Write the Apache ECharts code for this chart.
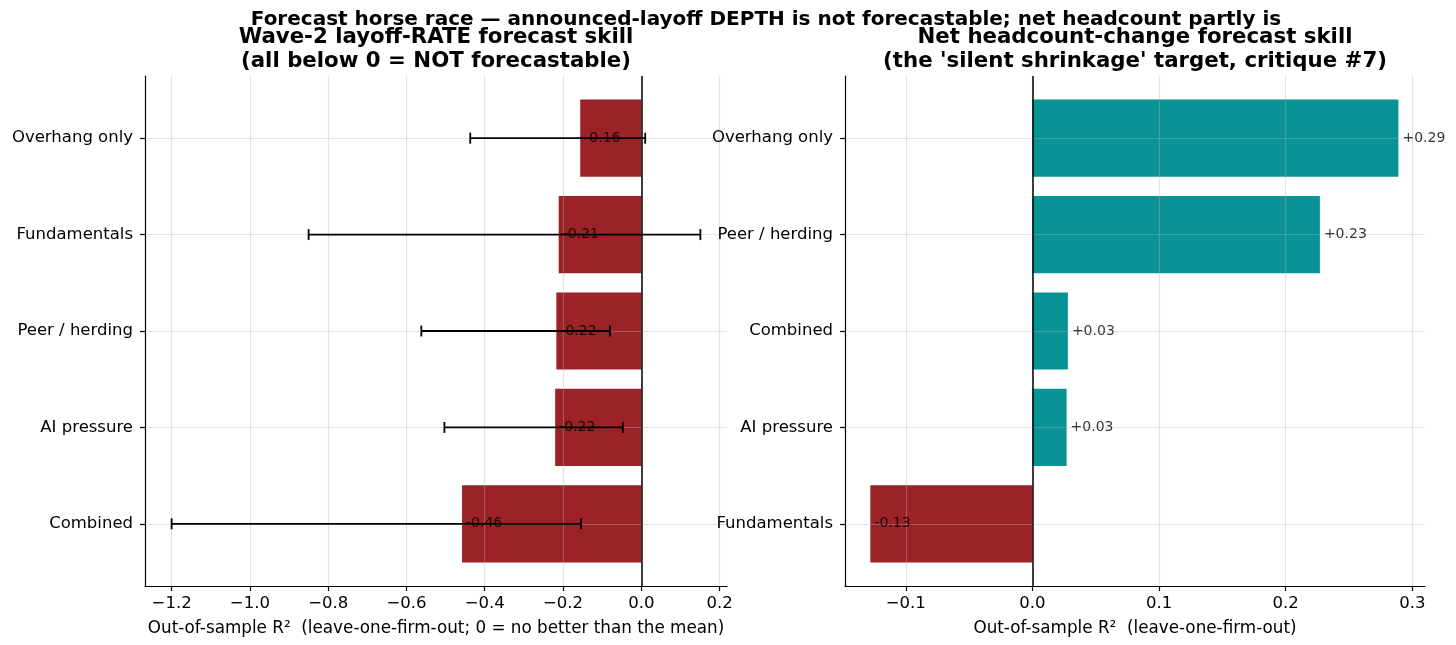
<!DOCTYPE html>
<html>
<head>
<meta charset="utf-8">
<script src="https://cdn.jsdelivr.net/npm/echarts@6/dist/echarts.min.js"></script>
<style>
  html, body { margin: 0; padding: 0; background: #fff; }
  #chart { width: 1456px; height: 645px; }
</style>
</head>
<body>
<div id="chart"></div>
<script>
// left panel: wave-2 layoff-rate skill (out-of-sample R2 + interval)
const leftCats = ['Overhang only', 'Fundamentals', 'Peer / herding', 'AI pressure', 'Combined'];
const leftR2 = [-0.156, -0.211, -0.217, -0.220, -0.458];
const leftLow = [-0.437, -0.850, -0.562, -0.503, -1.200];
const leftHigh = [0.010, 0.151, -0.080, -0.047, -0.154];
const leftTicks = [-1.2, -1.0, -0.8, -0.6, -0.4, -0.2, 0.0, 0.2];

// right panel: net headcount-change skill
const rightCats = ['Overhang only', 'Peer / herding', 'Combined', 'AI pressure', 'Fundamentals'];
const rightR2 = [0.289, 0.227, 0.028, 0.027, -0.128];
const rightTicks = [-0.1, 0.0, 0.1, 0.2, 0.3];

const RED = '#9b2226'
const TEAL = '#0a9396'
const GRID_COLOR = 'rgba(176,176,176,0.35)'
const FONT = 'DejaVu Sans'
const catIdx = [0, 1, 2, 3, 4]

const chart = echarts.init(document.getElementById('chart'))

function tickFmt(v) {
    const s = Math.abs(v).toFixed(1)
    return (v < -1e-9 ? '\u2212' : '') + s
}

function xAxisFor(gridIndex, min, max, ticks, name) {
    return {
        gridIndex: gridIndex,
        type: 'value',
        min: min,
        max: max,
        z: 3,
        name: name,
        nameLocation: 'middle',
        nameGap: 34,
        nameTextStyle: { fontFamily: FONT, fontSize: 16.8, color: '#000' },
        axisLine: { show: true, onZero: false, lineStyle: { color: '#000', width: 1.2 } },
        axisTick: { show: true, length: 5, customValues: ticks, lineStyle: { color: '#000', width: 1.2 } },
        axisLabel: {
            customValues: ticks, margin: 9, fontFamily: FONT, fontSize: 16.5, color: '#000',
            formatter: tickFmt
        },
        splitLine: { show: true, lineStyle: { color: GRID_COLOR, width: 1.2 } }
    }
}

function yAxisFor(gridIndex, cats) {
    return {
        gridIndex: gridIndex,
        type: 'value',
        min: -0.645,
        max: 4.645,
        inverse: true,
        z: 3,
        axisLine: { show: true, onZero: false, lineStyle: { color: '#000', width: 1.2 } },
        axisTick: { show: true, length: 5, customValues: catIdx, lineStyle: { color: '#000', width: 1.2 } },
        axisLabel: {
            customValues: catIdx, margin: 12, fontFamily: FONT, fontSize: 16.5, color: '#000',
            formatter: v => cats[Math.round(v)]
        },
        splitLine: { show: true, lineStyle: { color: GRID_COLOR, width: 1.2 } }
    }
}

// horizontal bar drawn from 0 to value, 0.8 tall
function barRenderer(color) {
    return function (params, api) {
        const v = api.value(0)
        const i = api.value(1)
        const p0 = api.coord([0, i - 0.4])
        const p1 = api.coord([v, i + 0.4])
        return {
            type: 'rect',
            shape: {
                x: Math.min(p0[0], p1[0]),
                y: Math.min(p0[1], p1[1]),
                width: Math.abs(p1[0] - p0[0]),
                height: Math.abs(p1[1] - p0[1])
            },
            style: { fill: color }
        }
    }
}

function errRenderer(params, api) {
    const lo = api.coord([api.value(0), api.value(2)])
    const hi = api.coord([api.value(1), api.value(2)])
    const cap = 5.5
    const st = { stroke: '#000', lineWidth: 1.8 }
    return {
        type: 'group',
        children: [
            { type: 'line', shape: { x1: lo[0], y1: lo[1], x2: hi[0], y2: hi[1] }, style: st },
            { type: 'line', shape: { x1: lo[0], y1: lo[1] - cap, x2: lo[0], y2: lo[1] + cap }, style: st },
            { type: 'line', shape: { x1: hi[0], y1: hi[1] - cap, x2: hi[0], y2: hi[1] + cap }, style: st }
        ]
    }
}

function zeroLine() {
    return {
        silent: true,
        symbol: 'none',
        label: { show: false },
        lineStyle: { color: '#000', width: 1.5, type: 'solid' },
        data: [{ xAxis: 0 }]
    }
}

function labelSeries(gi, vals, fmt) {
    return {
        type: 'scatter',
        xAxisIndex: gi,
        yAxisIndex: gi,
        symbolSize: 0,
        z: 6,
        silent: true,
        data: vals.map((v, i) => [v, i]),
        label: {
            show: true,
            position: 'right',
            distance: 4,
            fontFamily: FONT,
            fontSize: 14,
            color: '#000',
            formatter: p => fmt(p.value[0])
        }
    }
}

const option = {
    animation: false,
    backgroundColor: '#fff',
    title: [
        {
            text: 'Forecast horse race \u2014 announced-layoff DEPTH is not forecastable; net headcount partly is',
            left: 766, top: 8, textAlign: 'center', padding: 0,
            textStyle: { fontFamily: FONT, fontSize: 20, fontWeight: 'bold', color: '#000', lineHeight: 24 }
        },
        {
            text: 'Wave-2 layoff-RATE forecast skill\n(all below 0 = NOT forecastable)',
            left: 436, top: 25, textAlign: 'center', padding: 0,
            textStyle: { fontFamily: FONT, fontSize: 21.3, fontWeight: 'bold', color: '#000', lineHeight: 24 }
        },
        {
            text: "Net headcount-change forecast skill\n(the 'silent shrinkage' target, critique #7)",
            left: 1135, top: 25, textAlign: 'center', padding: 0,
            textStyle: { fontFamily: FONT, fontSize: 21.3, fontWeight: 'bold', color: '#000', lineHeight: 24 }
        }
    ],
    grid: [
        { left: 145, width: 582, top: 76, height: 510 },
        { left: 845, width: 580, top: 76, height: 510 }
    ],
    xAxis: [
        xAxisFor(0, -1.268, 0.219, leftTicks, 'Out-of-sample R\u00b2  (leave-one-firm-out; 0 = no better than the mean)'),
        xAxisFor(1, -0.148, 0.310, rightTicks, 'Out-of-sample R\u00b2  (leave-one-firm-out)')
    ],
    yAxis: [yAxisFor(0, leftCats), yAxisFor(1, rightCats)],
    series: [
        {
            type: 'custom',
            xAxisIndex: 0, yAxisIndex: 0, z: 2,
            renderItem: barRenderer(RED),
            data: leftR2.map((v, i) => [v, i])
        },
        {
            type: 'custom',
            xAxisIndex: 0, yAxisIndex: 0, z: 4,
            renderItem: errRenderer,
            data: leftLow.map((lo, i) => [lo, leftHigh[i], i]),
            markLine: zeroLine()
        },
        labelSeries(0, leftR2, v => v.toFixed(2)),
        {
            type: 'custom',
            xAxisIndex: 1, yAxisIndex: 1, z: 2,
            renderItem: (params, api) => {
                const color = api.value(0) >= 0 ? TEAL : RED
                return barRenderer(color)(params, api)
            },
            data: rightR2.map((v, i) => [v, i]),
            markLine: Object.assign(zeroLine(), { z: 4 })
        },
        labelSeries(1, rightR2, v => (v >= 0 ? '+' : '') + v.toFixed(2))
    ]
}

chart.setOption(option)
</script>
</body>
</html>
